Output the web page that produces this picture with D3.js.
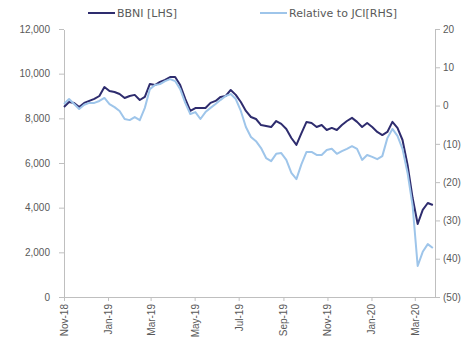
<!DOCTYPE html>
<html lang="en">
<head>
    <meta charset="UTF-8">
    <title>BBNI vs JCI</title>
    <script src="https://d3js.org/d3.v7.min.js"></script>
    <style>
        body { margin: 0; background: #fff; }
        svg { font: 11px "DejaVu Sans", sans-serif; }
        .tick text { fill: #595959; }
        .legend text { fill: #595959; }
    </style>
</head>
<body>
    <div id="chart"></div>

    <script>
        const dates = [
            "2018-11-01","2018-11-08","2018-11-15","2018-11-22","2018-11-29","2018-12-06","2018-12-13","2018-12-20","2018-12-27",
            "2019-01-03","2019-01-10","2019-01-17","2019-01-24","2019-01-31","2019-02-07","2019-02-14","2019-02-21","2019-02-28",
            "2019-03-07","2019-03-14","2019-03-21","2019-03-28","2019-04-04","2019-04-11","2019-04-18","2019-04-25",
            "2019-05-02","2019-05-09","2019-05-16","2019-05-23","2019-05-30","2019-06-06","2019-06-13","2019-06-20","2019-06-27",
            "2019-07-04","2019-07-11","2019-07-18","2019-07-25","2019-08-01","2019-08-08","2019-08-15","2019-08-22","2019-08-29",
            "2019-09-05","2019-09-12","2019-09-19","2019-09-26","2019-10-03","2019-10-10","2019-10-17","2019-10-24","2019-10-31",
            "2019-11-07","2019-11-14","2019-11-21","2019-11-28","2019-12-05","2019-12-12","2019-12-19","2019-12-26",
            "2020-01-02","2020-01-09","2020-01-16","2020-01-23","2020-01-30","2020-02-06","2020-02-13","2020-02-20","2020-02-27",
            "2020-03-05","2020-03-12","2020-03-19","2020-03-26"
        ];

        // BBNI share price (LHS)
        const bbni = [
            8510, 8730, 8690, 8510, 8690, 8780, 8870, 9000, 9400,
            9220, 9180, 9090, 8910, 9000, 9050, 8820, 8960, 9540,
            9490, 9630, 9720, 9850, 9850, 9490, 8870, 8330,
            8460, 8460, 8460, 8690, 8780, 8960, 9000, 9270, 9050,
            8730, 8330, 8060, 7970, 7700, 7660, 7610, 7880, 7750,
            7520, 7120, 6810, 7340, 7840, 7790, 7610, 7700, 7480,
            7570, 7480, 7700, 7880, 8020, 7840, 7610, 7790,
            7610, 7390, 7250, 7390, 7840, 7570, 7030, 5910, 4430,
            3270, 3900, 4210, 4120
        ];

        // performance relative to JCI, % (RHS)
        const relJci = [
            0.4, 1.7, 0.4, -0.9, 0.2, 0.7, 0.7, 1.2, 2.0,
            0.4, -0.4, -1.4, -3.5, -3.8, -3.0, -3.8, -0.6, 4.3,
            5.4, 5.6, 6.4, 6.9, 6.4, 4.3, 0.7, -2.2,
            -1.7, -3.5, -1.7, -0.6, 0.4, 1.5, 2.5, 3.0, 1.7,
            -1.4, -5.6, -8.2, -9.3, -11.1, -13.7, -14.5, -12.6, -12.4,
            -14.2, -17.6, -19.2, -15.3, -12.1, -12.1, -12.9, -12.9, -11.6,
            -11.3, -12.6, -11.9, -11.3, -10.6, -11.3, -14.2, -12.9,
            -13.4, -14.0, -13.2, -8.5, -6.1, -7.9, -11.3, -17.6, -26.2,
            -41.9, -38.2, -36.2, -37.2
        ];

        const xTickLabels = ["2018-11-01","2019-01-01","2019-03-01","2019-05-01","2019-07-01","2019-09-01","2019-11-01","2020-01-01","2020-03-01"];
        const leftTicks = [0, 2000, 4000, 6000, 8000, 10000, 12000];
        const rightTicks = [-50, -40, -30, -20, -10, 0, 10, 20];
        const seriesNames = ["BBNI [LHS]", "Relative to JCI[RHS]"];

        const parse = d3.timeParse("%Y-%m-%d");
        const W = 471, H = 347;
        const plotL = 64, plotR = 435, plotT = 29, plotB = 297;

        const svg = d3.select("#chart").append("svg")
            .attr("width", W)
            .attr("height", H);

        const x = d3.scaleTime()
            .domain([parse("2018-11-01"), parse("2020-03-29")])
            .range([plotL, plotR]);
        const yL = d3.scaleLinear().domain([0, 12000]).range([plotB, plotT]);
        const yR = d3.scaleLinear().domain([-50, 20]).range([plotB, plotT]);

        const axisColor = "#bfbfbf";

        // x axis
        const gx = svg.append("g")
            .attr("transform", `translate(0,${plotB})`)
            .call(d3.axisBottom(x)
                .tickValues(xTickLabels.map(parse))
                .tickSize(4)
                .tickSizeOuter(0)
                .tickFormat(d3.timeFormat("%b-%y")));
        gx.select(".domain").attr("stroke", axisColor).attr("d", `M${plotL},0H${plotR + 2}`);
        gx.selectAll(".tick line").attr("stroke", axisColor);
        gx.selectAll(".tick text")
            .attr("transform", "rotate(-90)")
            .attr("x", -7)
            .attr("y", 0)
            .attr("dy", "0.35em")
            .attr("text-anchor", "end");

        // left axis
        const gl = svg.append("g")
            .attr("transform", `translate(${plotL},0)`)
            .call(d3.axisLeft(yL)
                .tickValues(leftTicks)
                .tickSize(5)
                .tickSizeOuter(0)
                .tickPadding(9)
                .tickFormat(d3.format(",")));
        gl.select(".domain").attr("stroke", axisColor);
        gl.selectAll(".tick line").attr("stroke", axisColor);

        // right axis
        const fmtR = d => d < 0 ? `(${Math.abs(d)})` : `${d}`;
        const gr = svg.append("g")
            .attr("transform", `translate(${plotR},0)`)
            .call(d3.axisRight(yR)
                .tickValues(rightTicks)
                .tickSize(5)
                .tickSizeOuter(0)
                .tickPadding(3)
                .tickFormat(fmtR));
        gr.select(".domain").attr("stroke", axisColor);
        gr.selectAll(".tick line").attr("stroke", axisColor);

        svg.selectAll(".domain").attr("shape-rendering", "crispEdges");

        // lines
        const dark = "#2e2c6e", light = "#9ec5ea";

        const lineL = d3.line()
            .x((d, i) => x(parse(dates[i])))
            .y(d => yL(d));
        const lineR = d3.line()
            .x((d, i) => x(parse(dates[i])))
            .y(d => yR(d));

        svg.append("path")
            .datum(bbni)
            .attr("fill", "none")
            .attr("stroke", dark)
            .attr("stroke-width", 2)
            .attr("stroke-linejoin", "round")
            .attr("d", lineL);

        svg.append("path")
            .datum(relJci)
            .attr("fill", "none")
            .attr("stroke", light)
            .attr("stroke-width", 2)
            .attr("stroke-linejoin", "round")
            .attr("d", lineR);

        // legend
        const legend = svg.append("g").attr("class", "legend");
        const legendPos = [88, 260];
        seriesNames.forEach((name, i) => {
            const lx = legendPos[i];
            legend.append("line")
                .attr("x1", lx).attr("x2", lx + 27)
                .attr("y1", 13).attr("y2", 13)
                .attr("stroke", i === 0 ? dark : light)
                .attr("stroke-width", 2);
            legend.append("text")
                .attr("x", lx + 29)
                .attr("y", 13)
                .attr("dy", "0.35em")
                .text(name);
        });
    </script>
</body>
</html>
